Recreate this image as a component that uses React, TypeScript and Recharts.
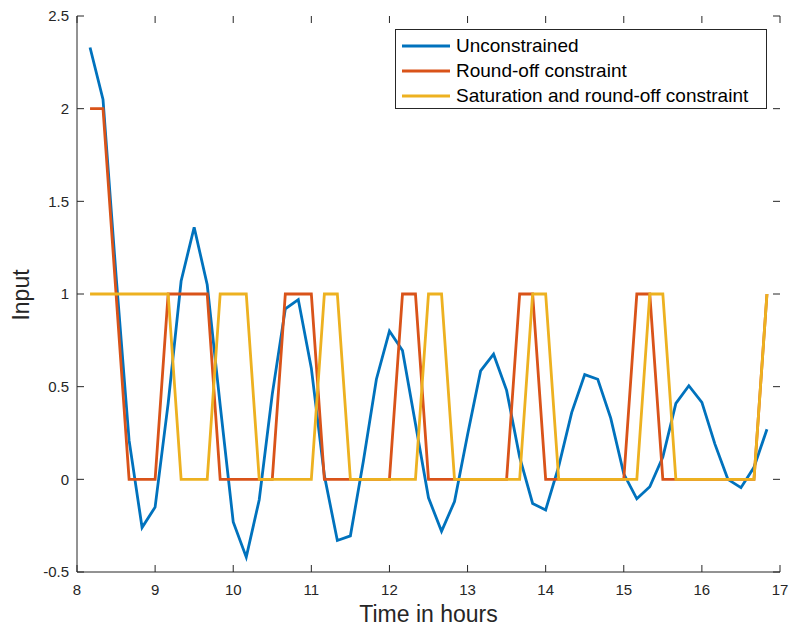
import * as React from 'react';
import { LineChart, Line, XAxis, YAxis } from 'recharts';

const times = [
  8.167, 8.333, 8.5, 8.667, 8.833, 9, 9.167, 9.333, 9.5, 9.667, 9.833, 10,
  10.167, 10.333, 10.5, 10.667, 10.833, 11, 11.167, 11.333, 11.5, 11.667, 11.833, 12,
  12.167, 12.333, 12.5, 12.667, 12.833, 13, 13.167, 13.333, 13.5, 13.667, 13.833, 14,
  14.167, 14.333, 14.5, 14.667, 14.833, 15, 15.167, 15.333, 15.5, 15.667, 15.833, 16,
  16.167, 16.333, 16.5, 16.667, 16.833,
];

const unconstrained = [
  2.33, 2.05, 1.1, 0.21, -0.26, -0.15, 0.41, 1.07, 1.36, 1.05, 0.4, -0.23,
  -0.42, -0.11, 0.46, 0.92, 0.97, 0.6, 0.02, -0.33, -0.305, 0.1, 0.54, 0.8,
  0.695, 0.3, -0.1, -0.28, -0.12, 0.24, 0.585, 0.675, 0.48, 0.12, -0.13, -0.165,
  0.07, 0.36, 0.565, 0.54, 0.33, 0.03, -0.105, -0.04, 0.12, 0.41, 0.505, 0.415,
  0.19, 0.0, -0.045, 0.065, 0.27,
];

const roundOff = [
  2, 2, 1, 0, 0, 0, 1, 1, 1, 1, 0, 0,
  0, 0, 0, 1, 1, 1, 0, 0, 0, 0, 0, 0,
  1, 1, 0, 0, 0, 0, 0, 0, 0, 1, 1, 0,
  0, 0, 0, 0, 0, 0, 1, 1, 0, 0, 0, 0,
  0, 0, 0, 0, 1,
];

const saturated = [
  1, 1, 1, 1, 1, 1, 1, 0, 0, 0, 1, 1,
  1, 0, 0, 0, 0, 0, 1, 1, 0, 0, 0, 0,
  0, 0, 1, 1, 0, 0, 0, 0, 0, 0, 1, 1,
  0, 0, 0, 0, 0, 0, 0, 1, 1, 0, 0, 0,
  0, 0, 0, 0, 1,
];

const xTicks = [8, 9, 10, 11, 12, 13, 14, 15, 16, 17];
const yTicks = [-0.5, 0, 0.5, 1, 1.5, 2, 2.5];

const series = [
  { key: 'unconstrained', name: 'Unconstrained', color: '#0072BD' },
  { key: 'roundOff', name: 'Round-off constraint', color: '#D95319' },
  { key: 'saturated', name: 'Saturation and round-off constraint', color: '#EDB120' },
];

const FONT = '"Liberation Sans", Arial, Helvetica, sans-serif';
const AXIS = '#262626';
const LINE_W = 2.8;

// plot box (matches chart margins below)
const LEFT = 77;
const RIGHT = 780;
const TOP = 16;
const BOTTOM = 572;

function XTick({ x, payload }: any) {
  return (
    <g>
      <line x1={x} y1={BOTTOM} x2={x} y2={BOTTOM - 7} stroke={AXIS} />
      <line x1={x} y1={TOP} x2={x} y2={TOP + 7} stroke={AXIS} />
      <text x={x} y={594.5} textAnchor="middle" fill={AXIS} fontSize={15} fontFamily={FONT}>
        {payload.value}
      </text>
    </g>
  );
}

function YTick({ y, payload }: any) {
  return (
    <g>
      <line x1={LEFT} y1={y} x2={LEFT + 7} y2={y} stroke={AXIS} />
      <line x1={RIGHT} y1={y} x2={RIGHT - 7} y2={y} stroke={AXIS} />
      <text x={69} y={y} dy={5.4} textAnchor="end" fill={AXIS} fontSize={15} fontFamily={FONT}>
        {payload.value}
      </text>
    </g>
  );
}

function YTitle() {
  return (
    <text
      transform="translate(29,295) rotate(-90)"
      textAnchor="middle"
      fill={AXIS}
      fontSize={23}
      fontFamily={FONT}
    >
      Input
    </text>
  );
}

function LegendBox() {
  return (
    <div
      style={{
        position: 'absolute',
        left: 395,
        top: 29,
        width: 372,
        height: 80,
        boxSizing: 'border-box',
        border: `1px solid ${AXIS}`,
        background: '#fff',
        fontFamily: FONT,
        fontSize: 19,
        color: '#000',
      }}
    >
      {series.map((s, i) => (
        <div
          key={s.key}
          style={{
            position: 'absolute',
            left: 6,
            top: 4 + i * 25,
            height: 24,
            display: 'flex',
            alignItems: 'center',
            whiteSpace: 'nowrap',
          }}
        >
          <svg width={48} height={6} style={{ marginRight: 6 }}>
            <line x1={0} y1={3} x2={48} y2={3} stroke={s.color} strokeWidth={LINE_W} />
          </svg>
          <span>{s.name}</span>
        </div>
      ))}
    </div>
  );
}

export default function App() {
  const data = times.map((t, i) => ({
    t,
    unconstrained: unconstrained[i],
    roundOff: roundOff[i],
    saturated: saturated[i],
  }));

  return (
    <div style={{ position: 'absolute', left: 0, top: 0, width: 790, height: 631, background: '#fff' }}>
      <LineChart width={790} height={631} data={data} margin={{ top: TOP, right: 10, left: 0, bottom: 0 }}>
        <XAxis
          dataKey="t"
          type="number"
          domain={[8, 17]}
          ticks={xTicks}
          interval={0}
          height={59}
          axisLine={{ stroke: AXIS }}
          tickLine={false}
          tick={<XTick />}
          label={{
            value: 'Time in hours',
            position: 'insideBottom',
            offset: 9,
            fill: AXIS,
            fontSize: 23,
            fontFamily: FONT,
          }}
        />
        <XAxis
          xAxisId="top"
          orientation="top"
          dataKey="t"
          type="number"
          domain={[8, 17]}
          height={0}
          axisLine={{ stroke: AXIS }}
          tick={false}
          tickLine={false}
        />
        <YAxis
          type="number"
          domain={[-0.5, 2.5]}
          ticks={yTicks}
          interval={0}
          width={77}
          axisLine={{ stroke: AXIS }}
          tickLine={false}
          tick={<YTick />}
          label={<YTitle />}
        />
        <YAxis
          yAxisId="right"
          orientation="right"
          type="number"
          domain={[-0.5, 2.5]}
          width={0}
          axisLine={{ stroke: AXIS }}
          tick={false}
          tickLine={false}
        />
        {series.map((s) => (
          <Line
            key={s.key}
            dataKey={s.key}
            name={s.name}
            type="linear"
            stroke={s.color}
            strokeWidth={LINE_W}
            dot={false}
            activeDot={false}
            isAnimationActive={false}
          />
        ))}
      </LineChart>
      <LegendBox />
    </div>
  );
}
